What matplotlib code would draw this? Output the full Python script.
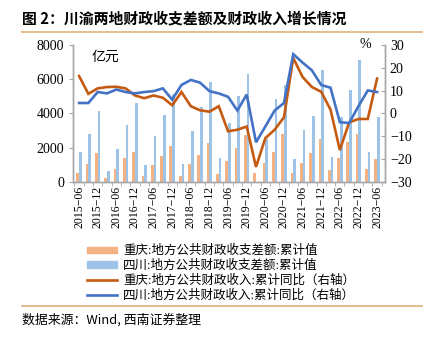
import numpy as np
import matplotlib
matplotlib.use("Agg")
import matplotlib.pyplot as plt
from matplotlib.lines import Line2D
from matplotlib.patches import Patch

plt.rcParams['font.family'] = ['Liberation Serif', 'Noto Sans CJK SC']
plt.rcParams['axes.unicode_minus'] = True

# quarterly, 2015-06 .. 2023-06
quarters = ['2015-06', '2015-09', '2015-12', '2016-03', '2016-06', '2016-09', '2016-12',
            '2017-03', '2017-06', '2017-09', '2017-12', '2018-03', '2018-06', '2018-09',
            '2018-12', '2019-03', '2019-06', '2019-09', '2019-12', '2020-03', '2020-06',
            '2020-09', '2020-12', '2021-03', '2021-06', '2021-09', '2021-12', '2022-03',
            '2022-06', '2022-09', '2022-12', '2023-03', '2023-06']

# 收支差额 累计值 (亿元)
cq_gap = [550, 1030, 1680, 250, 740, 1390, 1750, 330, 975, 1520, 2100, 330, 1030, 1600,
          2300, 450, 1240, 1960, 2740, 550, 1120, 1750, 2810, 550, 1120, 1690, 2540, 690,
          1400, 2320, 2810, 750, 1340]
sc_gap = [1750, 2790, 4130, 620, 1950, 3300, 4640, 975, 2660, 3940, 5120, 1030, 2960, 4370,
          5830, 1380, 3440, 5000, 6300, 0, 2500, 4870, 5650, 1320, 3050, 3830, 6530, 1450,
          3780, 5350, 7120, 1750, 3780]

# 财政收入 累计同比 (%)
cq_yoy = [16.4, 8.6, 11.0, 11.6, 11.7, 11.0, 7.9, 6.7, 7.9, 6.9, 3.6, 9.4, 3.2, 1.4, 0.8,
          3.2, -7.8, -7.1, -5.7, -23.4, -10.8, -7.1, -1.7, 24.3, 16.0, 11.6, 9.5, 1.7,
          -16.0, -3.9, -2.4, -2.4, 15.3]
sc_yoy = [4.6, 4.6, 9.4, 8.8, 10.5, 9.4, 8.8, 9.4, 9.8, 11.0, 6.1, 12.5, 14.7, 13.5, 9.8,
          8.8, 7.3, 1.3, 8.3, -12.6, -5.7, 1.3, 4.6, 26.0, 22.3, 18.9, 12.5, 11.3, -3.8,
          -4.2, 3.2, 10.1, 9.4]

labels = ['重庆:地方公共财政收支差额:累计值',
          '四川:地方公共财政收支差额:累计值',
          '重庆:地方公共财政收入:累计同比（右轴）',
          '四川:地方公共财政收入:累计同比（右轴）']

c_or_bar = '#F4B183'
c_bl_bar = '#9DC3E6'
c_or_line = '#C55A11'
c_bl_line = '#4472C4'
gray = '#A6A6A6'

W, H = 444, 338
fig = plt.figure(figsize=(W / 100, H / 100), dpi=100)

def fx(px):
    return px / W

def fy(px):
    return 1 - px / H

ax = fig.add_axes([fx(73), fy(182), fx(385 - 73), (182 - 45) / H])
ax2 = ax.twinx()

x = np.arange(len(quarters))
bw = 0.29
ax.bar(x - bw / 2, cq_gap, width=bw, color=c_or_bar, zorder=2)
ax.bar(x + bw / 2, sc_gap, width=bw, color=c_bl_bar, zorder=2)
ax2.plot(x, cq_yoy, color=c_or_line, lw=1.9, solid_joinstyle='miter')
ax2.plot(x, sc_yoy, color=c_bl_line, lw=1.9, solid_joinstyle='miter')

ax.set_xlim(-0.65, len(quarters) - 1 + 0.85)
ax.set_ylim(0, 8000)
ax.set_yticks(range(0, 8001, 2000))
ax2.set_ylim(-30, 30)
ax2.set_yticks(range(-30, 31, 10))

ax.set_xticks(x[::2])
ax.set_xticklabels([q.replace('-', '−') for q in quarters[::2]], rotation=90, fontsize=8.5)
ax.set_xticks(np.arange(-0.5, len(quarters)), minor=True)
ax.tick_params(axis='x', which='major', length=0, pad=3)
ax.tick_params(axis='x', which='minor', length=3, color=gray, direction='out')
ax.tick_params(axis='y', length=3, color=gray, labelsize=10, direction='out')
ax2.tick_params(axis='y', length=3, color=gray, labelsize=10, direction='in')

for a in (ax, ax2):
    a.spines['top'].set_visible(False)
    for s in ('left', 'right', 'bottom'):
        a.spines[s].set_color(gray)
        a.spines[s].set_linewidth(1.0)

ax.text(0.06, 0.96, '亿元', transform=ax.transAxes, fontsize=10, va='top', ha='left')
ax2.text(0.955, 1.0, '%', transform=ax2.transAxes, fontsize=10, va='center', ha='right')

# title and rules
fig.text(fx(22), fy(18), '图 2：川渝两地财政收支差额及财政收入增长情况',
         fontsize=10.7, fontweight='bold', va='center', ha='left',
         family=['Noto Sans CJK SC', 'DejaVu Sans'])
fig.add_artist(Line2D([fx(22), fx(422)], [fy(31.5), fy(31.5)], color='#E2B887', lw=1.3))
fig.add_artist(Line2D([fx(22), fx(422)], [fy(306), fy(306)], color='#E2B887', lw=1.3))
fig.text(fx(22), fy(320), '数据来源：Wind, 西南证券整理', fontsize=9.3, style='italic',
         va='center', ha='left', family=['Noto Sans CJK SC', 'DejaVu Sans'])

handles = [Patch(color=c_or_bar), Patch(color=c_bl_bar),
           Line2D([], [], color=c_or_line, lw=1.9),
           Line2D([], [], color=c_bl_line, lw=1.9)]
fig.legend(handles, labels, loc='upper left', bbox_to_anchor=(fx(87), fy(245)),
           frameon=False, fontsize=9, handlelength=2.4, handleheight=0.45,
           handletextpad=0.5, labelspacing=0.2, borderaxespad=0, borderpad=0)

fig.savefig('out.png', dpi=100)
